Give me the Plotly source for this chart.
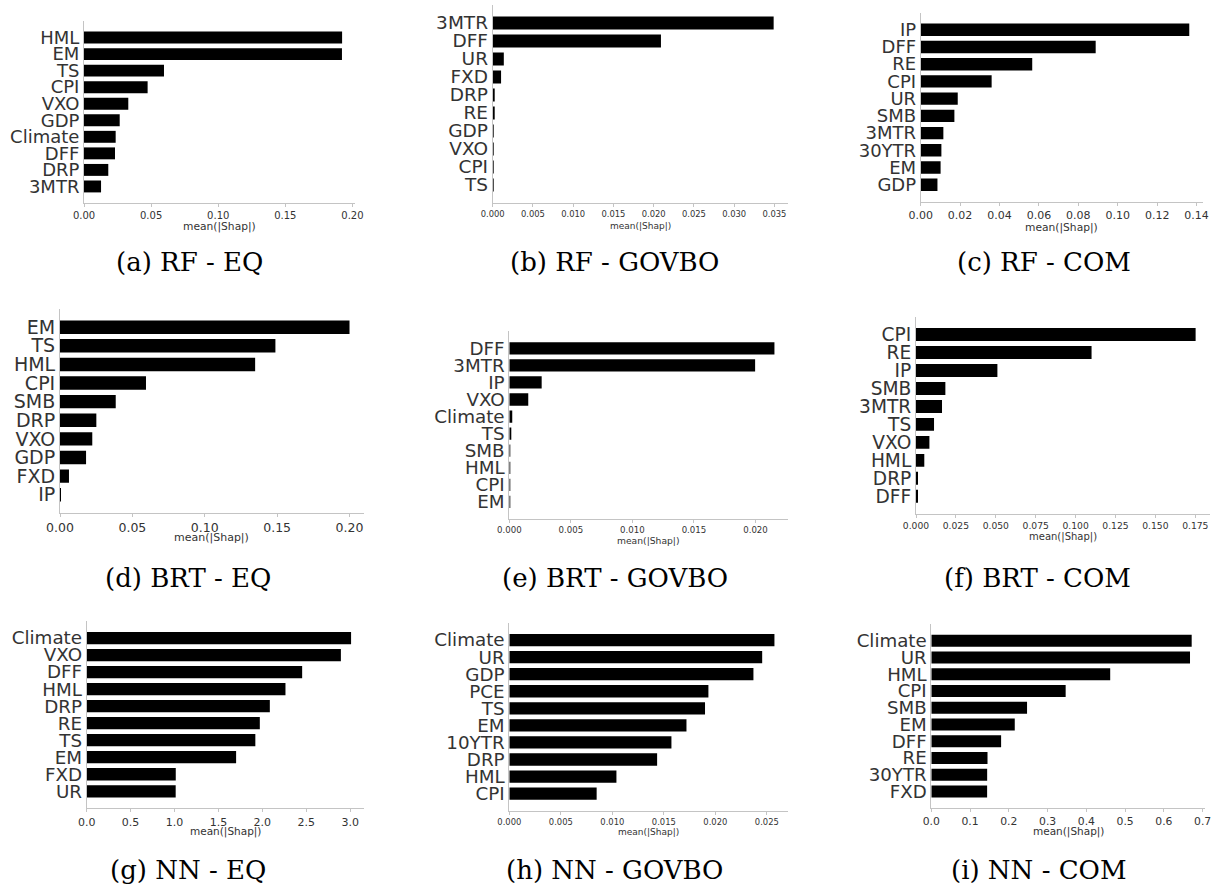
import plotly.graph_objects as go

W, H = 1211, 885

# ---------------- data (mean |SHAP| values) ----------------
rf_eq_labels = ["HML", "EM", "TS", "CPI", "VXO", "GDP", "Climate", "DFF", "DRP", "3MTR"]
rf_eq_values = [0.1923, 0.1922, 0.0596, 0.0474, 0.0330, 0.0266, 0.0236, 0.0231, 0.0181, 0.0127]

rf_govbo_labels = ["3MTR", "DFF", "UR", "FXD", "DRP", "RE", "GDP", "VXO", "CPI", "TS"]
rf_govbo_values = [0.0349, 0.0209, 0.00138, 0.00104, 0.00017, 0.00015, 0.00012, 0.00010, 0.00005, 0.00003]

rf_com_labels = ["IP", "DFF", "RE", "CPI", "UR", "SMB", "3MTR", "30YTR", "EM", "GDP"]
rf_com_values = [0.1363, 0.0888, 0.0566, 0.0360, 0.0188, 0.0171, 0.0115, 0.0105, 0.0101, 0.0085]

brt_eq_labels = ["EM", "TS", "HML", "CPI", "SMB", "DRP", "VXO", "GDP", "FXD", "IP"]
brt_eq_values = [0.2000, 0.1488, 0.1348, 0.0594, 0.0385, 0.0251, 0.0223, 0.0180, 0.0062, 0.0001]

brt_govbo_labels = ["DFF", "3MTR", "IP", "VXO", "Climate", "TS", "SMB", "HML", "CPI", "EM"]
brt_govbo_values = [0.02154, 0.01997, 0.00263, 0.00154, 0.00024, 0.00014, 0.00008, 0.00005, 0.00002, 0.00001]

brt_com_labels = ["CPI", "RE", "IP", "SMB", "3MTR", "TS", "VXO", "HML", "DRP", "DFF"]
brt_com_values = [0.1752, 0.1100, 0.0510, 0.0184, 0.0163, 0.0113, 0.0084, 0.0052, 0.00125, 0.0012]

nn_eq_labels = ["Climate", "VXO", "DFF", "HML", "DRP", "RE", "TS", "EM", "FXD", "UR"]
nn_eq_values = [3.010, 2.894, 2.453, 2.263, 2.085, 1.971, 1.920, 1.701, 1.014, 1.013]

nn_govbo_labels = ["Climate", "UR", "GDP", "PCE", "TS", "EM", "10YTR", "DRP", "HML", "CPI"]
nn_govbo_values = [0.02574, 0.02455, 0.0237, 0.01933, 0.0190, 0.0172, 0.01574, 0.01435, 0.0104, 0.00848]

nn_com_labels = ["Climate", "UR", "HML", "CPI", "SMB", "EM", "DFF", "RE", "30YTR", "FXD"]
nn_com_values = [0.6717, 0.6674, 0.4615, 0.3466, 0.2470, 0.2153, 0.1801, 0.1450, 0.1441, 0.1440]

captions = ["(a) RF - EQ", "(b) RF - GOVBO", "(c) RF - COM",
            "(d) BRT - EQ", "(e) BRT - GOVBO", "(f) BRT - COM",
            "(g) NN - EQ", "(h) NN - GOVBO", "(i) NN - COM"]

x_title = "mean(|Shap|)"

datasets = [
    (rf_eq_labels, rf_eq_values), (rf_govbo_labels, rf_govbo_values), (rf_com_labels, rf_com_values),
    (brt_eq_labels, brt_eq_values), (brt_govbo_labels, brt_govbo_values), (brt_com_labels, brt_com_values),
    (nn_eq_labels, nn_eq_values), (nn_govbo_labels, nn_govbo_values), (nn_com_labels, nn_com_values),
]

# ---------------- layout (page pixels) ----------------
# x0, x1, y_top, y_axis, dtick, tickformat, tick font, ylabel font, title font, title_y, caption_x, caption_y
panels = [
    (84, 355, 21, 203, 0.05, ".2f", 10.0, 18, 10.7, 226, 189, 262),
    (492.7, 787.7, 5, 203, 0.005, ".3f", 8.4, 18.5, 9.0, 226, 615, 262),
    (920.7, 1202.7, 12.5, 202, 0.02, ".2f", 11.0, 18, 10.7, 227, 1044, 262),
    (60, 364, 308.6, 513.3, 0.05, ".2f", 12.5, 19, 11.0, 537, 188, 578),
    (509.3, 787.7, 331.2, 519, 0.005, ".3f", 8.6, 18.3, 9.2, 540, 615, 578),
    (916, 1209.6, 316.5, 514.3, 0.025, ".3f", 9.2, 18.6, 10.0, 537, 1037, 578),
    (86.7, 364.3, 621, 808.3, 0.5, ".1f", 11.0, 18.3, 10.5, 831, 188, 870),
    (509.3, 787.7, 623, 810.7, 0.005, ".3f", 8.4, 18.3, 9.0, 832, 615, 870),
    (931.3, 1204.7, 624, 808.3, 0.1, ".1f", 10.8, 18.2, 10.5, 831, 1039, 870),
]

TXT = "#333333"
AX = "#c4c4c4"
SANS = "DejaVu Sans"
SERIF = "DejaVu Serif"

def px(x):
    return x / W

def py(y):
    return 1 - y / H

fig = go.Figure()
annotations = []

for i, ((labels, values), p) in enumerate(zip(datasets, panels)):
    x0, x1, ytop, yax, dtick, fmt, tfs, yfs, ttfs, ty, cx, cy = p
    n = len(labels)
    k = "" if i == 0 else str(i + 1)
    ypos = [n - 1 - j for j in range(n)]
    fig.add_trace(go.Bar(
        x=values, y=ypos, orientation="h",
        marker=dict(color="black", line=dict(width=0)),
        width=0.72,
        xaxis="x" + k, yaxis="y" + k,
        showlegend=False, hoverinfo="x+text", hovertext=labels,
    ))
    xmax = max(values) * 1.05
    fig.layout["xaxis" + k] = dict(
        domain=[px(x0), min(px(x1), 1)], anchor="y" + k, automargin=False,
        range=[0, xmax], tick0=0, dtick=dtick, tickformat=fmt,
        showgrid=False, zeroline=False,
        showline=True, linecolor=AX, linewidth=1,
        ticks="outside", ticklen=3, tickcolor=AX, tickwidth=1,
        tickfont=dict(family=SANS, size=tfs, color=TXT),
        ticklabeloverflow="allow",
        fixedrange=True,
    )
    fig.layout["yaxis" + k] = dict(
        domain=[py(yax), min(py(ytop), 1)], anchor="x" + k, automargin=False,
        range=[-1, n], tickmode="array", tickvals=ypos, ticktext=labels,
        showgrid=False, zeroline=False,
        showline=True, linecolor=AX, linewidth=1,
        ticks="", tickfont=dict(family=SANS, size=yfs, color=TXT),
        fixedrange=True,
    )
    annotations.append(dict(
        text=x_title, x=px((x0 + x1) / 2), y=py(ty), xref="paper", yref="paper",
        xanchor="center", yanchor="middle", showarrow=False,
        font=dict(family=SANS, size=ttfs, color=TXT),
    ))
    annotations.append(dict(
        text=captions[i], x=px(cx), y=py(cy), xref="paper", yref="paper",
        xanchor="center", yanchor="middle", showarrow=False,
        font=dict(family=SERIF, size=26, color="black"),
    ))

fig.update_layout(
    width=W, height=H,
    margin=dict(l=0, r=0, t=0, b=0, autoexpand=False),
    paper_bgcolor="white", plot_bgcolor="white",
    annotations=annotations,
    bargap=0.2,
)

# place the figure flush with the page corner (no default body margin)
fig.write_html(
    "out.html",
    config={"displayModeBar": False},
    post_script="document.body.style.margin='0';document.body.style.overflow='hidden';",
)
